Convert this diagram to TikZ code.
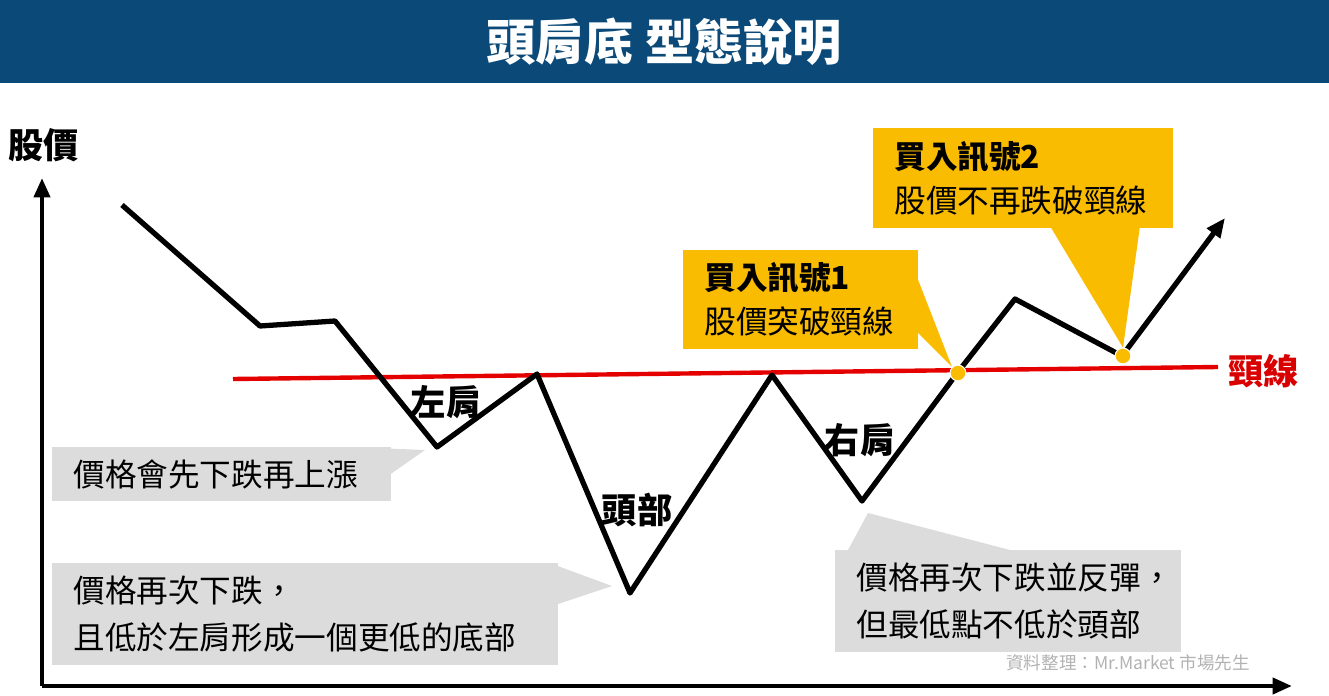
\documentclass[tikz,border=0pt]{standalone}
\usepackage{fontspec}
\setmainfont{Noto Sans CJK TC}
\usetikzlibrary{positioning}
\usetikzlibrary{arrows.meta}
\definecolor{titleblue}{HTML}{0B4A78}
\definecolor{callout}{HTML}{F9BC00}
\definecolor{note}{HTML}{DCDCDC}
\tikzstyle{lbl} = [font=\fontsize{20}{24}\selectfont\bfseries,inner sep=1pt]
\tikzstyle{notebox} = [fill=note,font=\fontsize{18}{27}\selectfont,align=left,inner xsep=12pt,inner ysep=7pt,anchor=north west]
\tikzstyle{sigbox} = [fill=callout,font=\fontsize{18}{25}\selectfont,align=left,inner xsep=12pt,inner ysep=7pt,anchor=north west]
\tikzstyle{dot} = [circle,fill=callout,draw=white,line width=0.6pt,minimum size=9pt,inner sep=0pt]
\tikzset{>={Triangle[width=9pt,length=11pt]}}

\begin{document}
\begin{tikzpicture}[x=0.02cm,y=-0.02cm]
  \useasboundingbox (0,0) rectangle (1329,696);
  \fill [titleblue] (0,0) rectangle (1329,83);
  \node [text=white,font=\fontsize{28}{32}\selectfont\bfseries] (title) at (664,42) {頭肩底 型態說明};

  % axes
  \coordinate (o) at (42,686);
  \coordinate (ytop) at (42,178);
  \coordinate (xend) at (1292,686);
  \draw [line width=2.5pt,->] (o) -- (ytop);
  \draw [line width=2.5pt,->] (o) -- (xend);
  \node [lbl,anchor=west] (ylab) at (6,145) {股價};

  % notes
  \node [notebox,text width=296*0.02cm] (n1) at (52,447) {價格會先下跌再上漲};
  \node [notebox,text width=463*0.02cm] (n2) at (52,563) {價格再次下跌，\\且低於左肩形成一個更低的底部};
  \node [notebox,text width=303*0.02cm] (n3) at (835,550) {價格再次下跌並反彈，\\但最低點不低於頭部};
  \coordinate (p1) at (425,450);
  \coordinate (p2) at (612,586);
  \coordinate (p3) at (868,513);
  \fill [note] (350,447) -- (p1) -- (385,478) -- cycle;
  \fill [note] (555,565) -- (p2) -- (555,605) -- cycle;
  \fill [note] (848,550) -- (p3) -- (1010,550) -- cycle;

  % neckline
  \coordinate (nl1) at (233,379);
  \coordinate (nl2) at (1218,367);
  \draw [red!90!black,line width=2.5pt] (nl1) -- (nl2);
  \node [lbl,text=red!85!black,anchor=west] (neck) at (1226,371) {頸線};

  % price
  \draw [line width=3pt,line join=round,->] (122,205) -- (260,326) -- (335,321) -- (437,447)
    -- (537,374) -- (630,593) -- (772,375) -- (862,501) -- (958,372) -- (1015,299)
    -- (1122,356) -- (1225,218);
  \node [lbl] (ls) at (446,402) {左肩};
  \node [lbl] (hd) at (637,510) {頭部};
  \node [lbl] (rs) at (860,440) {右肩};

  % signals
  \node [dot] (d1) at (958,373) {};
  \node [dot] (d2) at (1123,356) {};
  \node [sigbox,text width=192*0.02cm,minimum height=91*0.02cm] (s1) at (683,250) {\textbf{買入訊號1}\\股價突破頸線};
  \node [sigbox,text width=257*0.02cm,minimum height=100*0.02cm] (s2) at (873,128) {\textbf{買入訊號2}\\股價不再跌破頸線};
  \fill [callout] (915,272) -- (d1.north west) -- (915,330) -- cycle;
  \fill [callout] (1050,226) -- (d2.north) -- (1140,226) -- cycle;

  \node [text=gray!60,font=\fontsize{10}{12}\selectfont] (src) at (1128,663) {資料整理：Mr.Market 市場先生};
\end{tikzpicture}
\end{document}
